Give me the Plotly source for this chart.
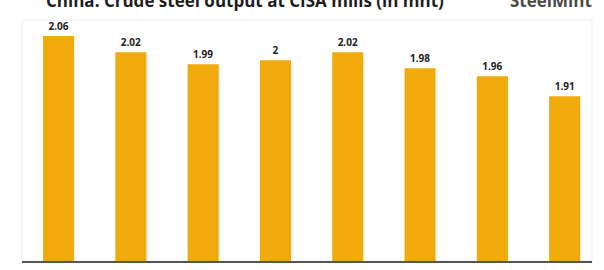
import plotly.graph_objects as go

periods = ["1-10 Jul'22", "11-20 Jul'22", "21-31 Jul'22", "1-10 Aug'22",
           "11-20 Aug'22", "21-31 Aug'22", "1-10 Sep'22", "11-20 Sep'22"]
output_mnt = [2.06, 2.02, 1.99, 2, 2.02, 1.98, 1.96, 1.91]
shown_ticks = ["1-10 Jul'22", "1-10 Aug'22", "1-10 Sep'22"]

bar_color = "#F0AA0C"

fig = go.Figure()
fig.add_trace(go.Bar(
    x=periods, y=output_mnt,
    marker=dict(color=bar_color, line=dict(width=0)),
    width=0.43,
    text=[f"{v:g}" for v in output_mnt],
    textposition="outside",
    cliponaxis=False,
    textfont=dict(family="Open Sans", size=10, color="#222222", weight="bold"),
))

fig.update_layout(
    width=604, height=270,
    margin=dict(l=22, r=12, t=20, b=9, autoexpand=False),
    paper_bgcolor="white", plot_bgcolor="white",
    showlegend=False,
    bargap=0.57,
    font=dict(family="Open Sans"),
)
fig.update_xaxes(
    type="category",
    range=[-0.506, 7.378],
    automargin=False,
    showline=True, linecolor="#555555", linewidth=1.5,
    showgrid=False, ticks="",
    ticklabelstandoff=3,
    tickmode="array", tickvals=shown_ticks, ticktext=shown_ticks,
    tickfont=dict(size=11, color="#333333"),
)
fig.update_yaxes(
    range=[1.5, 2.1], showgrid=False, showticklabels=False,
    zeroline=False, showline=False, ticks="", automargin=False,
)
fig.add_shape(type="rect", xref="paper", yref="paper", x0=0, x1=1, y0=0, y1=1,
              line=dict(color="#EEEEEE", width=1), layer="below")

fig.add_annotation(
    text="China: Crude steel output at CISA mills (in mnt)",
    xref="paper", yref="paper", x=(44 - 22) / 570, y=1 + 20 / 241,
    xanchor="left", yanchor="middle", showarrow=False,
    font=dict(family="Open Sans", size=17, color="#1E1E1E", weight="bold"),
)
fig.add_annotation(
    text="SteelMint",
    xref="paper", yref="paper", x=(594 - 22) / 570, y=1 + 20 / 241,
    xanchor="right", yanchor="middle", showarrow=False,
    font=dict(family="Open Sans", size=17, color="#4A4A4A", weight="bold"),
)

fig.write_html("out.html")
